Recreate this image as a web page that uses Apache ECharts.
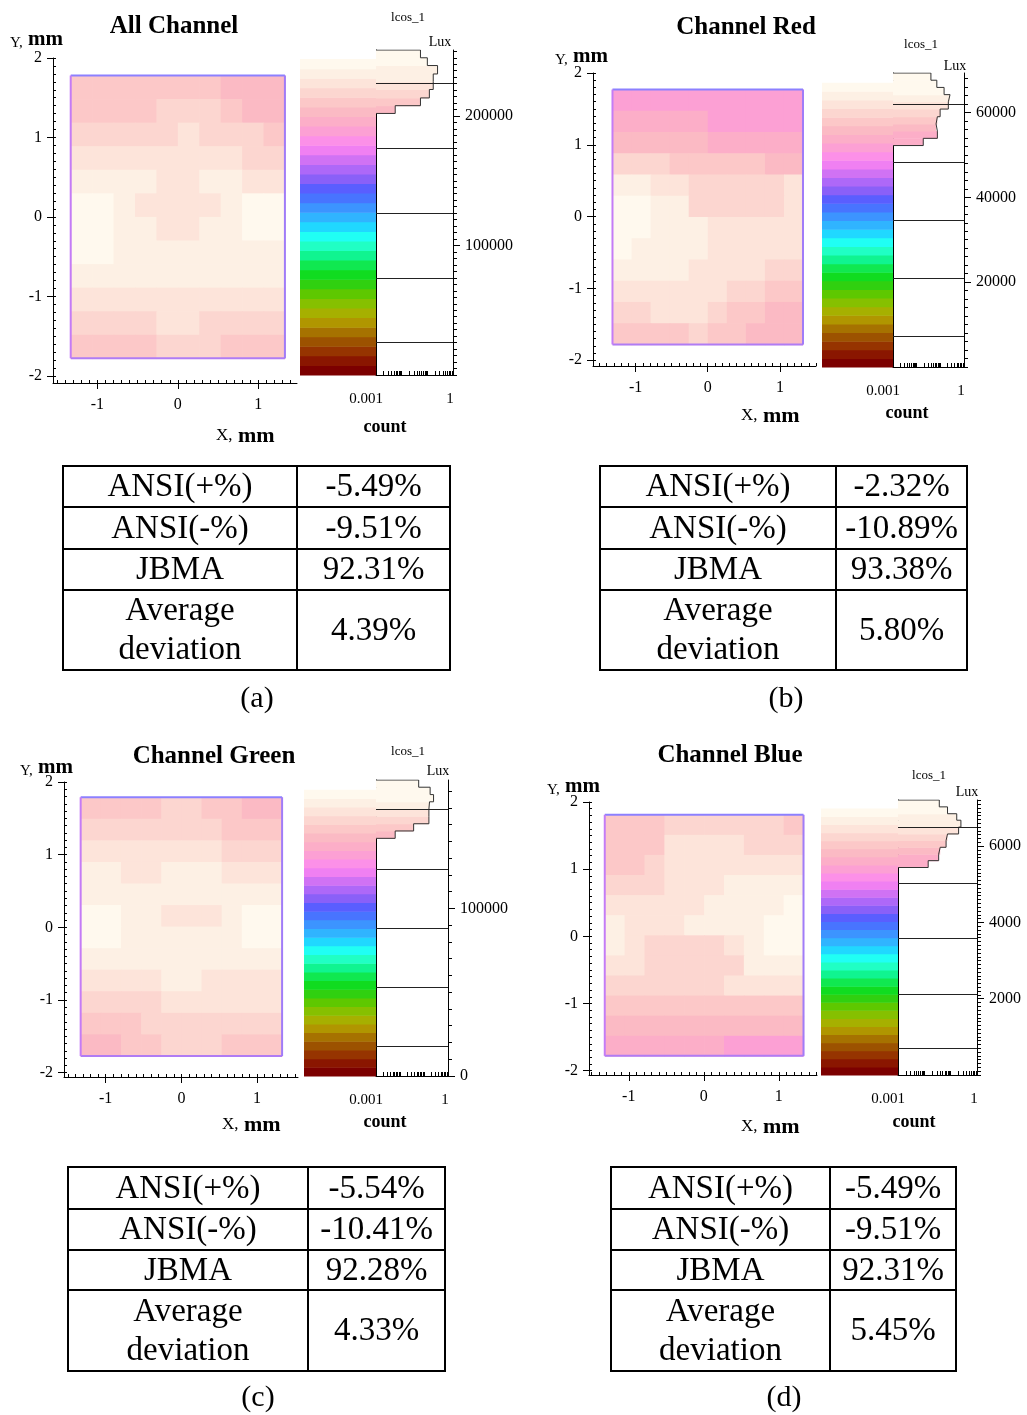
<!DOCTYPE html>
<html>
<head>
<meta charset="utf-8">
<script src="https://cdn.jsdelivr.net/npm/echarts@6/dist/echarts.min.js"></script>
<style>
  html, body { margin: 0; background: #fff; }
  #main { width: 1027px; height: 1415px; }
</style>
</head>
<body>
<div id="main"></div>
<script>
// colour bands of the Lux scale, bottom -> top
const bandColors = [
  '#7c0000', '#8a1600', '#963400', '#9c5200', '#a67200', '#b09600', '#a6b000',
  '#86c000', '#5ec800', '#30d010', '#10dc20', '#10e850', '#10f490', '#20ffc4',
  '#20fff4', '#20d8ff', '#30b4ff', '#3c94ff', '#4874ff', '#5a5eff', '#8a60f8',
  '#ae68f8', '#d072f4', '#f080f2', '#fc90e8', '#fca0d4', '#fcaec8', '#fbbac4',
  '#fcc8c8', '#fcd6d0', '#fde4da', '#fdf0e4', '#fff9ee'
];

const tableRows = ['ANSI(+%)', 'ANSI(-%)', 'JBMA', 'Average\ndeviation'];
const mapXLabels = [-1, 0, 1];
const mapYLabels = [-2, -1, 0, 1, 2];
const histLabels = [0.001, 1];

// (a) All Channel - illuminance in kLux, rows top -> bottom
const allMap = [
  [211, 211, 211, 211, 211, 211, 211, 203, 203, 203],
  [211, 211, 211, 211, 218, 218, 218, 211, 203, 203],
  [218, 218, 218, 218, 218, 226, 218, 218, 218, 211],
  [226, 226, 226, 226, 226, 226, 226, 226, 218, 218],
  [233, 233, 233, 233, 226, 226, 233, 233, 226, 226],
  [240, 240, 233, 226, 226, 226, 226, 233, 240, 240],
  [240, 240, 233, 233, 226, 226, 233, 233, 240, 240],
  [240, 240, 233, 233, 233, 233, 233, 233, 233, 233],
  [233, 233, 233, 233, 233, 233, 233, 233, 233, 233],
  [226, 226, 226, 226, 226, 226, 226, 226, 226, 226],
  [218, 218, 218, 218, 226, 226, 218, 218, 218, 218],
  [211, 211, 211, 211, 218, 218, 218, 211, 211, 211]
];
const allExtent = [-1.33, 1.33, -1.78, 1.78];
const allXRange = [-1.55, 1.48];
const allYRange = [-2.09, 2];
const allScaleMax = 244;
const allLuxMax = 251;
const allHistEdges = [202, 208, 214, 220.5, 226.5, 232.5, 239, 245, 251];
const allHistCounts = [0.0056, 0.054, 0.12, 0.17, 0.17, 0.25, 0.10, 0.054];
const allHistLines = [25, 75, 125, 175, 225];
const allLuxLabels = [100, 200];
const allTable = ['-5.49%', '-9.51%', '92.31%', '4.39%'];

// (b) Channel Red
const redMap = [
  [51.8, 51.8, 51.8, 51.8, 51.8, 51.8, 51.8, 51.8, 51.8, 51.8],
  [53.8, 53.8, 53.8, 53.8, 53.8, 51.8, 51.8, 51.8, 51.8, 51.8],
  [55.8, 55.8, 55.8, 55.8, 55.8, 53.8, 53.8, 53.8, 53.8, 53.8],
  [59.9, 59.9, 59.9, 57.9, 57.9, 57.9, 57.9, 57.9, 55.8, 55.8],
  [63.9, 63.9, 61.9, 61.9, 59.9, 59.9, 59.9, 59.9, 59.9, 61.9],
  [66.0, 66.0, 63.9, 63.9, 59.9, 59.9, 59.9, 59.9, 59.9, 61.9],
  [66.0, 66.0, 63.9, 63.9, 63.9, 61.9, 61.9, 61.9, 61.9, 61.9],
  [66.0, 63.9, 63.9, 63.9, 63.9, 61.9, 61.9, 61.9, 61.9, 61.9],
  [63.9, 63.9, 63.9, 63.9, 61.9, 61.9, 61.9, 61.9, 59.9, 59.9],
  [61.9, 61.9, 61.9, 61.9, 61.9, 61.9, 59.9, 59.9, 57.9, 57.9],
  [59.9, 59.9, 61.9, 61.9, 61.9, 59.9, 57.9, 57.9, 55.8, 55.8],
  [57.9, 57.9, 57.9, 57.9, 59.9, 57.9, 57.9, 55.8, 55.8, 55.8]
];
const redExtent = [-1.32, 1.32, -1.78, 1.77];
const redXRange = [-1.59, 1.5];
const redYRange = [-2.08, 2];
const redScaleMax = 67;
const redLuxMax = 69.3;
const redHistEdges = [52.2, 53.9, 55.6, 57.3, 59.0, 60.8, 62.5, 64.2, 65.9, 67.6, 69.3];
const redHistCounts = [0.019, 0.075, 0.066, 0.075, 0.098, 0.218, 0.257, 0.144, 0.071, 0.040];
const redHistLines = [7.2, 20.9, 34.6, 48.3, 62.0];
const redLuxLabels = [20, 40, 60];
const redTable = ['-2.32%', '-10.89%', '93.38%', '5.80%'];

// (c) Channel Green
const greenMap = [
  [147.6, 147.6, 147.6, 147.6, 152.7, 152.7, 147.6, 147.6, 142.4, 142.4],
  [152.7, 152.7, 152.7, 152.7, 152.7, 152.7, 152.7, 147.6, 147.6, 147.6],
  [157.9, 157.9, 157.9, 157.9, 157.9, 157.9, 157.9, 152.7, 152.7, 152.7],
  [163.1, 163.1, 157.9, 157.9, 163.1, 163.1, 163.1, 157.9, 157.9, 157.9],
  [163.1, 163.1, 163.1, 163.1, 163.1, 163.1, 163.1, 163.1, 163.1, 163.1],
  [168.3, 168.3, 163.1, 163.1, 157.9, 157.9, 157.9, 163.1, 168.3, 168.3],
  [168.3, 168.3, 163.1, 163.1, 163.1, 163.1, 163.1, 163.1, 168.3, 168.3],
  [163.1, 163.1, 163.1, 163.1, 163.1, 163.1, 163.1, 163.1, 163.1, 163.1],
  [157.9, 157.9, 157.9, 157.9, 163.1, 163.1, 157.9, 157.9, 157.9, 157.9],
  [152.7, 152.7, 152.7, 152.7, 157.9, 157.9, 157.9, 157.9, 157.9, 157.9],
  [147.6, 147.6, 147.6, 152.7, 152.7, 152.7, 152.7, 152.7, 152.7, 152.7],
  [142.4, 142.4, 147.6, 147.6, 152.7, 152.7, 152.7, 147.6, 147.6, 147.6]
];
const greenExtent = [-1.33, 1.33, -1.77, 1.79];
const greenXRange = [-1.55, 1.54];
const greenYRange = [-2.06, 2];
const greenScaleMax = 170.8;
const greenLuxMax = 176.6;
const greenHistEdges = [141.8, 146.2, 150.5, 154.9, 159.2, 163.6, 167.9, 172.3, 176.6];
const greenHistCounts = [0.0063, 0.037, 0.16, 0.16, 0.17, 0.25, 0.18, 0.06];
const greenHistLines = [17.7, 52.8, 88.0, 123.3, 159.4];
const greenLuxLabels = [0, 100];
const greenTable = ['-5.54%', '-10.41%', '92.28%', '4.33%'];

// (d) Channel Blue
const blueMap = [
  [6.04, 6.04, 6.04, 6.25, 6.25, 6.25, 6.25, 6.25, 6.25, 6.04],
  [6.04, 6.04, 6.04, 6.46, 6.46, 6.46, 6.46, 6.25, 6.25, 6.25],
  [6.04, 6.04, 6.25, 6.46, 6.46, 6.46, 6.46, 6.46, 6.46, 6.46],
  [6.25, 6.25, 6.25, 6.46, 6.46, 6.46, 6.67, 6.67, 6.67, 6.67],
  [6.46, 6.46, 6.46, 6.46, 6.46, 6.67, 6.67, 6.67, 6.67, 6.88],
  [6.67, 6.46, 6.46, 6.46, 6.67, 6.67, 6.67, 6.67, 6.88, 6.88],
  [6.67, 6.46, 6.25, 6.25, 6.25, 6.25, 6.46, 6.67, 6.88, 6.88],
  [6.46, 6.46, 6.25, 6.25, 6.25, 6.25, 6.25, 6.67, 6.67, 6.67],
  [6.25, 6.25, 6.25, 6.25, 6.25, 6.25, 6.46, 6.46, 6.46, 6.46],
  [6.04, 6.04, 6.04, 6.04, 6.04, 6.04, 6.04, 6.04, 6.04, 6.04],
  [5.82, 5.82, 5.82, 5.82, 5.82, 5.82, 5.82, 5.82, 5.82, 5.82],
  [5.61, 5.61, 5.61, 5.61, 5.61, 5.61, 5.40, 5.40, 5.40, 5.40]
];
const blueExtent = [-1.32, 1.33, -1.78, 1.81];
const blueXRange = [-1.53, 1.51];
const blueYRange = [-2.065, 2];
const blueScaleMax = 6.99;
const blueLuxMax = 7.21;
const blueHistEdges = [5.44, 5.62, 5.79, 5.97, 6.15, 6.32, 6.50, 6.68, 6.85, 7.03, 7.21];
const blueHistCounts = [0.014, 0.035, 0.040, 0.067, 0.076, 0.20, 0.245, 0.17, 0.076, 0.037];
const blueHistLines = [0.69, 2.134, 3.577, 5.021, 6.491];
const blueLuxLabels = [2, 4, 6];
const blueTable = ['-5.49%', '-9.51%', '92.31%', '5.45%'];

const panels = [
  { title: 'All Channel', tag: '(a)', map: allMap, extent: allExtent, xRange: allXRange, yRange: allYRange,
    scaleMax: allScaleMax, luxMax: allLuxMax, edges: allHistEdges, counts: allHistCounts,
    lines: allHistLines, luxLabels: allLuxLabels, luxStep: 5, table: allTable },
  { title: 'Channel Red', tag: '(b)', map: redMap, extent: redExtent, xRange: redXRange, yRange: redYRange,
    scaleMax: redScaleMax, luxMax: redLuxMax, edges: redHistEdges, counts: redHistCounts,
    lines: redHistLines, luxLabels: redLuxLabels, luxStep: 2, table: redTable },
  { title: 'Channel Green', tag: '(c)', map: greenMap, extent: greenExtent, xRange: greenXRange, yRange: greenYRange,
    scaleMax: greenScaleMax, luxMax: greenLuxMax, edges: greenHistEdges, counts: greenHistCounts,
    lines: greenHistLines, luxLabels: greenLuxLabels, luxStep: 10, table: greenTable },
  { title: 'Channel Blue', tag: '(d)', map: blueMap, extent: blueExtent, xRange: blueXRange, yRange: blueYRange,
    scaleMax: blueScaleMax, luxMax: blueLuxMax, edges: blueHistEdges, counts: blueHistCounts,
    lines: blueHistLines, luxLabels: blueLuxLabels, luxStep: 0.1, table: blueTable }
];

// pixel layout of every panel
const layouts = [
  { map: [53, 58, 244, 325], cbar: [300, 76], hist: [376, 50, 77, 325],
    title: [174, 27], yName: [10, 40], xName: [216, 436], lcos: [408, 18], lux: [440, 42], count: [385, 427],
    table: { x: [63, 297, 450], y: [466, 507, 549, 590, 670] }, caption: [257, 699] },
  { map: [593, 73, 223, 293], cbar: [822, 71], hist: [893, 73, 71, 294],
    title: [746, 28], yName: [555, 57], xName: [741, 416], lcos: [921, 45], lux: [955, 66], count: [907, 413],
    table: { x: [600, 836, 967], y: [466, 507, 549, 590, 670] }, caption: [786, 699] },
  { map: [64, 782, 234, 295], cbar: [304, 72], hist: [376, 780, 72, 296],
    title: [214, 757], yName: [20, 768], xName: [222, 1125], lcos: [408, 752], lux: [438, 771], count: [385, 1122],
    table: { x: [68, 308, 445], y: [1167, 1209, 1250, 1290, 1371] }, caption: [258, 1398] },
  { map: [589, 802, 228, 273], cbar: [821, 77], hist: [898, 800, 79, 275],
    title: [730, 756], yName: [547, 787], xName: [741, 1127], lcos: [929, 776], lux: [967, 792], count: [914, 1122],
    table: { x: [611, 830, 956], y: [1167, 1209, 1250, 1290, 1371] }, caption: [784, 1398] }
];

const serif = 'Liberation Serif';
const ink = '#000';

function steps(from, to, step) {
  const out = [];
  const n = Math.floor((to - from) / step + 1e-6);
  for (let i = 0; i <= n; i++) out.push(+(from + i * step).toFixed(4));
  return out;
}
const logTicks = [];
[-3, -2, -1].forEach(e => { for (let m = 1; m < 10; m++) logTicks.push(+(m * Math.pow(10, e)).toPrecision(3)); });
logTicks.push(1);

function colorFor(v, cmax) {
  const i = Math.floor(v / cmax * bandColors.length);
  return bandColors[Math.max(0, Math.min(bandColors.length - 1, i))];
}

const grids = [], xAxes = [], yAxes = [], series = [], graphics = [];
const noLine = { show: false, onZero: false };
const hidden = { axisLine: noLine, axisTick: { show: false }, axisLabel: { show: false }, splitLine: { show: false } };
const solidLine = { show: true, onZero: false, lineStyle: { color: ink, width: 1 } };

function text(x, y, str, font) {
  graphics.push({
    type: 'text', x: x, y: y, silent: true,
    style: { text: str, font: font, fill: ink, align: 'center', verticalAlign: 'middle',
             textAlign: 'center', textVerticalAlign: 'middle' }
  });
  return graphics[graphics.length - 1];
}

function addPanel(d, L) {
  const g0 = grids.length, x0 = xAxes.length, y0 = yAxes.length;
  grids.push({ left: L.map[0], top: L.map[1], width: L.map[2], height: L.map[3], outerBoundsMode: 'none' });
  grids.push({ left: L.cbar[0], top: L.hist[1], width: L.cbar[1], height: L.hist[3], outerBoundsMode: 'none' });
  grids.push({ left: L.hist[0], top: L.hist[1], width: L.hist[2], height: L.hist[3], outerBoundsMode: 'none' });

  // map axes: main (labels, long ticks outside) + minor ticks inside
  xAxes.push({ type: 'value', gridIndex: g0, min: d.xRange[0], max: d.xRange[1], position: 'bottom',
    axisLine: solidLine,
    axisTick: { inside: false, length: 6, customValues: mapXLabels, lineStyle: { color: ink } },
    axisLabel: { customValues: mapXLabels, fontSize: 16, fontFamily: serif, color: ink, margin: 14 },
    splitLine: { show: false } });
  xAxes.push(Object.assign({}, hidden, { type: 'value', gridIndex: g0, min: d.xRange[0], max: d.xRange[1], position: 'bottom',
    axisTick: { show: true, inside: true, length: 3, customValues: steps(-1.5, d.xRange[1], 0.1), lineStyle: { color: ink } } }));
  yAxes.push({ type: 'value', gridIndex: g0, min: d.yRange[0], max: d.yRange[1], position: 'left',
    axisLine: solidLine,
    axisTick: { inside: false, length: 6, customValues: mapYLabels, lineStyle: { color: ink } },
    axisLabel: { customValues: mapYLabels, fontSize: 16, fontFamily: serif, color: ink, margin: 11 },
    splitLine: { show: false } });
  yAxes.push(Object.assign({}, hidden, { type: 'value', gridIndex: g0, min: d.yRange[0], max: d.yRange[1], position: 'left',
    axisTick: { show: true, inside: true, length: 3, customValues: steps(-2, 2, 0.1), lineStyle: { color: ink } } }));

  // colour bar axes
  xAxes.push(Object.assign({}, hidden, { type: 'value', gridIndex: g0 + 1, min: 0, max: 1 }));
  yAxes.push(Object.assign({}, hidden, { type: 'value', gridIndex: g0 + 1, min: 0, max: d.luxMax }));

  // histogram axes
  xAxes.push({ type: 'log', logBase: 10, gridIndex: g0 + 2, min: 0.001, max: 1, position: 'bottom',
    axisLine: solidLine,
    axisTick: { inside: true, length: 4, customValues: logTicks, lineStyle: { color: ink } },
    axisLabel: { customValues: histLabels, fontSize: 15, fontFamily: serif, color: ink, margin: 17,
      formatter: v => (v < 0.5 ? '{l|' + v + '}' : '{r|' + v + '}'),
      rich: { l: { fontSize: 15, fontFamily: serif, padding: [0, 20, 0, 0] },
              r: { fontSize: 15, fontFamily: serif, padding: [0, 6, 0, 0] } } },
    splitLine: { show: false } });
  yAxes.push({ type: 'value', gridIndex: g0 + 2, min: 0, max: d.luxMax, position: 'right',
    axisLine: solidLine,
    axisTick: { inside: false, length: 7, customValues: d.luxLabels, lineStyle: { color: ink } },
    axisLabel: { customValues: d.luxLabels, formatter: v => String(Math.round(v * 1000)),
                 fontSize: 16, fontFamily: serif, color: ink, margin: 12 },
    splitLine: { show: false } });
  yAxes.push(Object.assign({}, hidden, { type: 'value', gridIndex: g0 + 2, min: 0, max: d.luxMax, position: 'right',
    axisTick: { show: true, inside: false, length: 4,
                customValues: steps(0, d.luxMax, d.luxStep), lineStyle: { color: ink } } }));
  yAxes.push(Object.assign({}, hidden, { type: 'value', gridIndex: g0 + 2, min: 0, max: d.luxMax, position: 'left',
    axisLine: solidLine }));

  // illuminance map cells
  const ext = d.extent;
  const rows = d.map.length, cols = d.map[0].length;
  const dx = (ext[1] - ext[0]) / cols, dy = (ext[3] - ext[2]) / rows;
  const cells = [];
  d.map.forEach((row, r) => row.forEach((v, c) => cells.push([ext[0] + c * dx, ext[3] - r * dy, v])));
  series.push({ type: 'custom', xAxisIndex: x0, yAxisIndex: y0, silent: true, data: cells,
    encode: { x: 0, y: 1 },
    renderItem: (params, api) => {
      const p0 = api.coord([api.value(0), api.value(1)]);
      const p1 = api.coord([api.value(0) + dx, api.value(1) - dy]);
      return { type: 'rect', shape: { x: p0[0], y: p0[1], width: p1[0] - p0[0] + 0.7, height: p1[1] - p0[1] + 0.7 },
               style: { fill: colorFor(api.value(2), d.scaleMax) } };
    } });
  // map outline
  series.push({ type: 'custom', xAxisIndex: x0, yAxisIndex: y0, silent: true, z: 3,
    data: [ext], encode: { x: [0, 1], y: [2, 3] },
    renderItem: (params, api) => {
      const a = api.coord([api.value(0), api.value(3)]);
      const b = api.coord([api.value(1), api.value(2)]);
      const seg = (x1, y1, x2, y2, c) => ({ type: 'line', shape: { x1, y1, x2, y2 }, style: { stroke: c, lineWidth: 2 } });
      return { type: 'group', children: [
        seg(a[0], a[1], b[0], a[1], '#8c80ff'),
        seg(a[0], b[1], b[0], b[1], '#b07cf4'),
        seg(a[0], a[1], a[0], b[1], '#c47cf6'),
        seg(b[0], a[1], b[0], b[1], '#a07cf8')
      ] };
    } });

  // colour bar
  const w = d.scaleMax / bandColors.length;
  series.push({ type: 'custom', xAxisIndex: x0 + 2, yAxisIndex: y0 + 2, silent: true,
    data: bandColors.map((c, i) => [i * w, (i + 1) * w, i]), encode: { y: [0, 1] },
    renderItem: (params, api) => {
      const p0 = api.coord([0, api.value(1)]);
      const p1 = api.coord([1, api.value(0)]);
      return { type: 'rect', shape: { x: p0[0], y: p0[1], width: p1[0] - p0[0], height: p1[1] - p0[1] + 0.5 },
               style: { fill: bandColors[api.value(2)] } };
    } });

  // histogram fill
  series.push({ type: 'custom', xAxisIndex: x0 + 3, yAxisIndex: y0 + 3, silent: true,
    data: d.counts.map((c, i) => [d.edges[i], d.edges[i + 1], c]), encode: { x: 2, y: [0, 1] },
    renderItem: (params, api) => {
      const p0 = api.coord([0.001, api.value(1)]);
      const p1 = api.coord([api.value(2), api.value(0)]);
      return { type: 'rect', shape: { x: p0[0], y: p0[1], width: p1[0] - p0[0], height: p1[1] - p0[1] + 0.5 },
               style: { fill: colorFor((api.value(0) + api.value(1)) / 2, d.scaleMax) } };
    } });
  // histogram outline and bin lines
  const pts = [[0.001, d.edges[0]]];
  d.counts.forEach((c, i) => { pts.push([c, d.edges[i]], [c, d.edges[i + 1]]); });
  pts.push([0.001, d.edges[d.edges.length - 1]]);
  series.push({ type: 'line', xAxisIndex: x0 + 3, yAxisIndex: y0 + 3, silent: true, z: 4,
    data: pts, symbol: 'none', showSymbol: false, lineStyle: { color: '#333', width: 1 },
    markLine: { silent: true, symbol: 'none', label: { show: false },
      lineStyle: { color: '#222', type: 'solid', width: 1 },
      data: d.lines.map(v => ({ yAxis: v })) } });

  // texts
  text(L.title[0], L.title[1], d.title, 'bold 25px "' + serif + '"');
  graphics.push({ type: 'text', x: L.yName[0], y: L.yName[1], silent: true,
    style: { text: '{s|Y,}{b| mm}', verticalAlign: 'middle', textVerticalAlign: 'middle',
      rich: { s: { fontSize: 15, fontFamily: serif, fill: ink, padding: [6, 0, 0, 0] },
              b: { fontSize: 21, fontWeight: 'bold', fontFamily: serif, fill: ink } } } });
  graphics.push({ type: 'text', x: L.xName[0], y: L.xName[1], silent: true,
    style: { text: '{s|X,}{b| mm}', verticalAlign: 'middle', textVerticalAlign: 'middle',
      rich: { s: { fontSize: 17, fontFamily: serif, fill: ink },
              b: { fontSize: 22, fontWeight: 'bold', fontFamily: serif, fill: ink } } } });
  text(L.lcos[0], L.lcos[1], 'lcos_1', '13px "' + serif + '"');
  text(L.lux[0], L.lux[1], 'Lux', '14px "' + serif + '"');
  text(L.count[0], L.count[1], 'count', 'bold 18px "' + serif + '"');

  // table
  const tx = L.table.x, ty = L.table.y;
  graphics.push({ type: 'rect', silent: true, shape: { x: tx[0], y: ty[0], width: tx[2] - tx[0], height: ty[4] - ty[0] },
    style: { fill: 'none', stroke: ink, lineWidth: 2 } });
  graphics.push({ type: 'line', silent: true, shape: { x1: tx[1], y1: ty[0], x2: tx[1], y2: ty[4] },
    style: { stroke: ink, lineWidth: 2 } });
  [1, 2, 3].forEach(i => graphics.push({ type: 'line', silent: true,
    shape: { x1: tx[0], y1: ty[i], x2: tx[2], y2: ty[i] }, style: { stroke: ink, lineWidth: 2 } }));
  tableRows.forEach((label, i) => {
    const cy = (ty[i] + ty[i + 1]) / 2 + 1;
    text((tx[0] + tx[1]) / 2, cy, label, '33px "' + serif + '"').style.lineHeight = 39;
    text((tx[1] + tx[2]) / 2, cy, d.table[i], '33px "' + serif + '"');
  });
  text(L.caption[0], L.caption[1], d.tag, '30px "' + serif + '"');
}

panels.forEach((p, i) => addPanel(p, layouts[i]));

const chart = echarts.init(document.getElementById('main'));
chart.setOption({
  animation: false,
  backgroundColor: '#fff',
  textStyle: { fontFamily: serif },
  grid: grids,
  xAxis: xAxes,
  yAxis: yAxes,
  series: series,
  graphic: { elements: graphics }
});
window.onresize = function () { chart.resize(); };
</script>
</body>
</html>
